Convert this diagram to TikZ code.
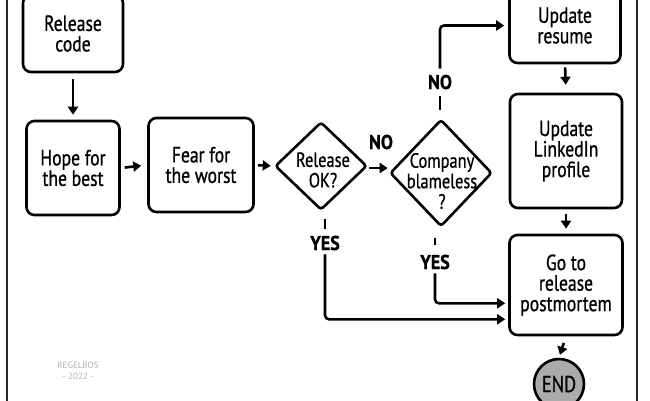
\documentclass[tikz,border=0pt]{standalone}
\usepackage{fontspec}
\setmainfont[FakeStretch=0.8,FakeBold=0.8]{PT Sans}
\newfontfamily\lblfont[FakeStretch=0.9,FakeBold=0.8]{PT Sans}
\newfontfamily\sigfont{PT Sans}
\usetikzlibrary{shapes.geometric,arrows.meta,calc}
\begin{document}
\begin{tikzpicture}[x=1pt,y=-1pt,
  box/.style={draw, line width=2.6pt, rounded corners=8pt, align=center,
    inner sep=0pt, font=\fontsize{22}{20.5}\selectfont},
  dia/.style={draw, diamond, line width=2.6pt, rounded corners=3pt, inner sep=0pt},
  txt/.style={align=center, inner sep=0pt, font=\fontsize{20.5}{20.5}\selectfont},
  lbl/.style={inner sep=0pt, font=\lblfont\bfseries\fontsize{20}{20}\selectfont},
  conn/.style={line width=2.6pt, rounded corners=4pt, -{Triangle[length=8pt,width=10pt]}},
  tickline/.style={line width=2.6pt},
  border/.style={line width=1.8pt, black!85}]
\useasboundingbox (0,0) rectangle (650,400);
\clip (0,0) rectangle (650,400);

% panel borders
\draw[border] (7,-5) -- (7,405);
\draw[border] (637,-5) -- (637,405);

% nodes
\node[box, minimum width=100, minimum height=77] (rc) at (73,33.5) {Release\\code};
\node[box, minimum width=93, minimum height=94] (hope) at (73,168) {Hope for\\the best};
\node[box, minimum width=105, minimum height=94] (fear) at (201,165) {Fear for\\the worst};
\node[dia, minimum width=92, minimum height=88] (rok) at (321,166) {};
\node[txt] (rokt) at (323,170) {Release\\OK?};
\node[dia, minimum width=102, minimum height=107] (cb) at (441,173) {};
\node[txt] (cbt) at (442,181) {Company\\blameless\\?};
\node[box, minimum width=111, minimum height=75] (rs) at (565,25.5) {Update\\resume};
\node[box, minimum width=112, minimum height=114] (li) at (566,151) {Update\\LinkedIn\\profile};
\node[box, minimum width=113, minimum height=100] (pm) at (566,285) {Go to\\release\\postmortem};
\node[circle, draw, fill=black!33, line width=2.6pt, minimum size=50, inner sep=0pt,
  font=\fontsize{23}{20}\selectfont] (end) at (559,384) {END};

% labels
\node[lbl] (no2) at (381,142) {NO};
\node[lbl] (no1) at (440,82) {NO};
\node[lbl] (yes1) at (325,243) {YES};
\node[lbl] (yes2) at (435,262) {YES};

% connectors
\coordinate (ra) at ($(rok.east)+(0,2)$);
\draw[conn, shorten <=1pt, shorten >=1pt] (ra) -- (ra -| cb.west);
\draw[conn, shorten <=6pt, shorten >=5pt] (rc.south) -- (hope.north);
\draw[conn, shorten <=4pt, shorten >=6pt] (hope.east) -- (fear.west);
\draw[conn, shorten <=3pt, shorten >=3pt] (fear.east) -- (rok.west);
\draw[tickline, shorten <=8pt, shorten >=7pt] (no1.south |- cb.north) -- (no1.south);
\draw[conn, shorten <=6pt, shorten >=4pt] (no1.north) |- (rs.west);
\draw[conn, shorten <=3pt, shorten >=8pt] (rs.south) -- (li.north);
\draw[conn, shorten <=5pt, shorten >=5pt] (li.south) -- (pm.north);
\draw[conn, shorten <=7pt, shorten >=3pt] (pm.south) -- (end.north);
\draw[tickline, shorten <=8pt, shorten >=7pt] (yes1.north |- rok.south) -- (yes1.north);
\draw[conn, shorten <=4pt, shorten >=3pt] (yes1.south) |- ($(pm.south west)+(0,-17)$);
\draw[tickline, shorten <=10pt, shorten >=10pt] (yes2.north |- cb.south) -- (yes2.north);
\draw[conn, shorten <=4pt, shorten >=3pt] (yes2.south) |- ($(pm.south west)+(0,-33)$);

% signature
\node[align=center, text=black!30, inner sep=0pt, font=\sigfont\fontsize{9}{11}\selectfont]
  (sig) at (78,371) {REGELBOS\\- 2022 -};
\end{tikzpicture}
\end{document}
